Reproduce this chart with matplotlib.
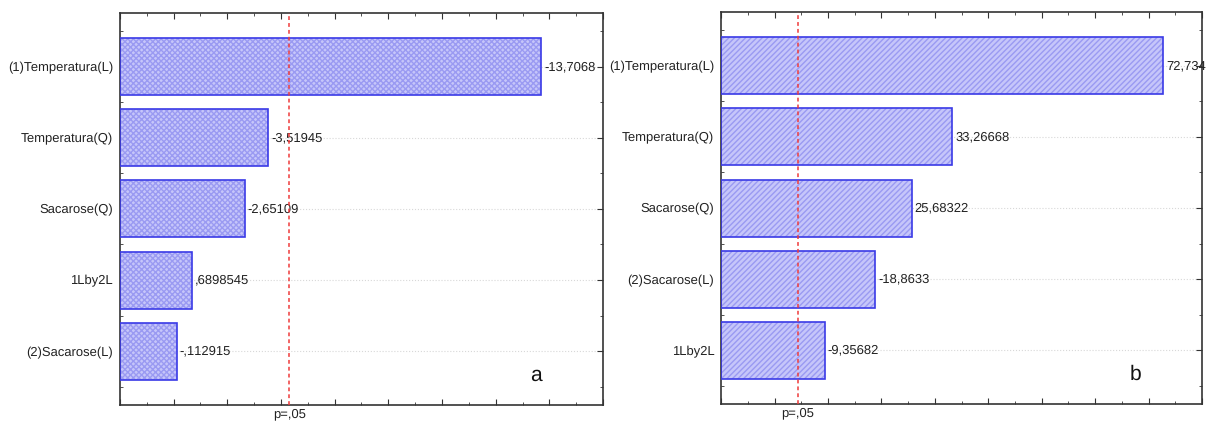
import numpy as np
import matplotlib
matplotlib.use("Agg")
import matplotlib.pyplot as plt
from matplotlib.ticker import MultipleLocator
from matplotlib.transforms import blended_transform_factory

plt.rcParams['font.family'] = ['Liberation Sans', 'DejaVu Sans']
plt.rcParams['text.hinting'] = 'no_hinting'
plt.rcParams['text.hinting_factor'] = 1

# panel a (top to bottom)
terms_a = ["(1)Temperatura(L)", "Temperatura(Q)", "Sacarose(Q)", "1Lby2L", "(2)Sacarose(L)"]
effects_a = [-13.7068, -3.51945, -2.65109, 0.6898545, -0.112915]
labels_a = ["-13,7068", "-3,51945", "-2,65109", ",6898545", "-,112915"]

# panel b (top to bottom)
terms_b = ["(1)Temperatura(L)", "Temperatura(Q)", "Sacarose(Q)", "(2)Sacarose(L)", "1Lby2L"]
effects_b = [72.734, 33.26668, 25.68322, -18.8633, -9.35682]
labels_b = ["72,734", "33,26668", "25,68322", "-18,8633", "-9,35682"]

t_crit = 4.303  # p=.05
FS = 9.3


def pareto(ax, terms, effects, labels, xlim, major, minor, hatch, letter):
    n = len(terms)
    y = np.arange(n)
    vals = np.abs(np.array(effects))
    left = xlim[0]
    # hatched fill, then blue outline on top
    ax.barh(y, vals - left, left=left, height=0.8, color='#c6c6fa',
            edgecolor='#9a9af2', hatch=hatch, linewidth=0, zorder=2)
    ax.barh(y, vals - left, left=left, height=0.8, color='none',
            edgecolor='#3a3ae6', linewidth=1.2, zorder=3)
    for yi, v, lab in zip(y, vals, labels):
        ax.text(v + (xlim[1] - xlim[0]) * 0.006, yi, lab, va='center', ha='left',
                fontsize=FS, color='#222222', zorder=4)
    ax.axvline(t_crit, color='#ef3b3b', ls=(0, (2.5, 2)), lw=1.1, zorder=4)
    tr = blended_transform_factory(ax.transData, ax.transAxes)
    ax.text(t_crit, -0.008, "p=,05", transform=tr, ha='center', va='top',
            fontsize=FS, color='#222222')
    ax.text(0.85, 0.075, letter, transform=ax.transAxes, fontsize=15,
            ha='left', va='center', color='#111111')

    ax.set_xlim(*xlim)
    ax.set_ylim(n - 0.25, -0.75)
    ax.set_yticks(y)
    ax.set_yticklabels(terms, fontsize=FS, color='#222222')
    ax.yaxis.set_minor_locator(MultipleLocator(0.5))
    ax.xaxis.set_major_locator(MultipleLocator(major))
    ax.xaxis.set_minor_locator(MultipleLocator(minor))
    ax.tick_params(axis='both', which='both', direction='in', top=True, right=True,
                   color='#333333')
    ax.tick_params(axis='both', which='major', length=4, width=0.8)
    ax.tick_params(axis='both', which='minor', length=2.5, width=0.6)
    ax.tick_params(axis='x', labelbottom=False)
    ax.tick_params(axis='y', pad=5)
    ax.grid(axis='y', which='major', color='#d8d8d8', ls=':', lw=0.8, zorder=0)
    for sp in ax.spines.values():
        sp.set_color('#333333')
        sp.set_linewidth(1.2)


fig = plt.figure(figsize=(12.08, 4.25), dpi=100)
ax_a = fig.add_axes([0.0993, 0.048, 0.3999, 0.921])
ax_b = fig.add_axes([0.597, 0.05, 0.398, 0.921])

pareto(ax_a, terms_a, effects_a, labels_a, (-2, 16), 2, 1, 'xxxxxx', 'a')
pareto(ax_b, terms_b, effects_b, labels_b, (-10, 80), 10, 5, '//////', 'b')

fig.savefig("out.png", dpi=100)
